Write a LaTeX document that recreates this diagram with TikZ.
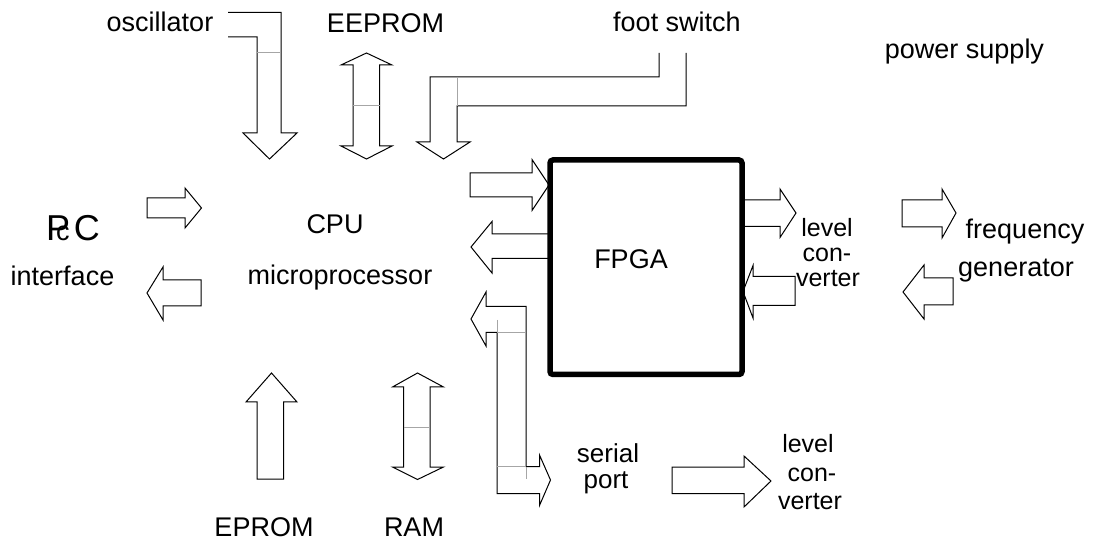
\documentclass[tikz,border=0pt]{standalone}
\usepackage{fontspec}
\setmainfont{Liberation Sans}
\begin{document}
\begin{tikzpicture}[x=1pt,y=-1pt,
  blk/.style={draw=black, line width=1pt, fill=white, line join=miter},
  seam/.style={draw=black!35, line width=1pt},
  lbl/.style={inner sep=0pt, anchor=base, font=\fontsize{27}{27}\selectfont},
  small/.style={font=\fontsize{25}{25}\selectfont},
  fpgabox/.style={draw, line width=5.5pt, rounded corners=3pt, inner sep=0pt,
    minimum width=192pt, minimum height=214.5pt}]
\useasboundingbox (0,0) rectangle (1093,545);

% oscillator arrow
\draw[blk] (228,12.5) -- (281,12.5) -- (281,133) -- (297,133) -- (269.5,159) -- (243,133) -- (257,133) -- (257,37) -- (228,37);
\draw[seam] (257,53) -- (281,53);
% EEPROM double arrow
\draw[blk] (366.5,53) -- (392,65) -- (379.5,65) -- (379.5,146) -- (392,146) -- (366.5,159) -- (341,146) -- (353,146) -- (353,65) -- (341,65) -- cycle;
\draw[seam] (353,106) -- (379.5,106);
% foot switch arrow
\draw[blk] (659,53) -- (659,77) -- (430,77) -- (430,142) -- (417,142) -- (443.5,159) -- (470,142) -- (457,142) -- (457,106) -- (686,106) -- (686,53);
\draw[seam] (457,77) -- (457,106);
% into FPGA
\draw[blk] (470,173) -- (532,173) -- (532,159.5) -- (549,185) -- (532,210.5) -- (532,197) -- (470,197) -- cycle;
% out of FPGA to CPU
\draw[blk] (550,234) -- (492,234) -- (492,221.5) -- (471,247) -- (492,273) -- (492,258.5) -- (550,258.5);
% serial port bent double arrow
\draw[blk] (471,319) -- (486,292) -- (486,306.5) -- (526,306.5) -- (526,466.5) -- (539.5,466.5) -- (539.5,455) -- (550.5,480) -- (539.5,505.5) -- (539.5,493.5) -- (497,493.5) -- (497,332.5) -- (486,332.5) -- (486,346) -- cycle;
\draw[seam] (497,332.5) -- (526,332.5);
\draw[seam] (497,320) -- (497,332.5);
\draw[seam] (497,466.5) -- (526,466.5);
\draw[seam] (526,466.5) -- (526,479);
% EPROM arrow
\draw[blk] (257,479) -- (257,402) -- (246,402) -- (271.5,373) -- (297,402) -- (283.5,402) -- (283.5,479) -- cycle;
% RAM double arrow
\draw[blk] (417.5,373) -- (443.5,387) -- (430,387) -- (430,467) -- (443.5,467) -- (417.5,479.5) -- (392.5,467) -- (403.5,467) -- (403.5,387) -- (392.5,387) -- cycle;
\draw[seam] (403.5,427) -- (430,427);
% PC arrows
\draw[blk] (147,198) -- (185,198) -- (185,188) -- (201.5,208) -- (185,228) -- (185,218) -- (147,218) -- cycle;
\draw[blk] (201,280) -- (163,280) -- (163,267) -- (147,293) -- (163,320) -- (163,306) -- (201,306) -- cycle;
% FPGA right side arrows
\draw[blk] (742,200) -- (780,200) -- (780,189) -- (796,213) -- (780,237.5) -- (780,226.5) -- (742,226.5);
\draw[blk] (795,276.5) -- (753,276.5) -- (753,265.5) -- (743,291.5) -- (753,318) -- (753,305.5) -- (795,305.5) -- cycle;
% frequency generator arrows
\draw[blk] (902,200) -- (942,200) -- (942,189) -- (956,213) -- (942,238) -- (942,227) -- (902,227) -- cycle;
\draw[blk] (953,278) -- (924,278) -- (924,265) -- (903,292) -- (924,319) -- (924,305) -- (953,305) -- cycle;
% serial port -> level converter
\draw[blk] (672,467) -- (744,467) -- (744,456) -- (771,481) -- (744,507) -- (744,493.5) -- (672,493.5) -- cycle;

% FPGA box
\node[fpgabox] (fpga) at (646,267.25) {};

% labels
\node[lbl] (osc) at (160,32) {oscillator};
\node[lbl] (eeprom) at (385.5,33) {EEPROM};
\node[lbl] (foot) at (677,31.5) {foot switch};
\node[lbl] (power) at (964.5,58.5) {power supply};
\node[lbl, anchor=base west, font=\fontsize{36}{36}\selectfont] (pcP) at (46,241) {P};
\node[lbl, anchor=base west] (pcc) at (56,241) {c};
\node[lbl, anchor=base east, font=\fontsize{36}{36}\selectfont] (pcC) at (100,241) {C};
\node[lbl] (iface) at (62.5,285.5) {interface};
\node[lbl] (cpu) at (335,233.5) {CPU};
\node[lbl] (micro) at (340,285) {microprocessor};
\node[lbl] (fpgatxt) at (631,269) {FPGA};
\node[lbl, small] (lvA1) at (827,237) {level};
\node[lbl, small] (lvA2) at (827,262) {con-};
\node[lbl, small] (lvA3) at (828,287) {verter};
\node[lbl] (freq) at (1025,239) {frequency};
\node[lbl] (gen) at (1016,277) {generator};
\node[lbl, font=\fontsize{26}{26}\selectfont] (serial) at (608,462) {serial};
\node[lbl, font=\fontsize{26}{26}\selectfont] (port) at (606,488) {port};
\node[lbl, small] (lvB1) at (808,453) {level};
\node[lbl, small] (lvB2) at (812,481) {con-};
\node[lbl, small] (lvB3) at (810,509) {verter};
\node[lbl] (eprom) at (264,536.5) {EPROM};
\node[lbl] (ram) at (414,536.5) {RAM};
\end{tikzpicture}
\end{document}
